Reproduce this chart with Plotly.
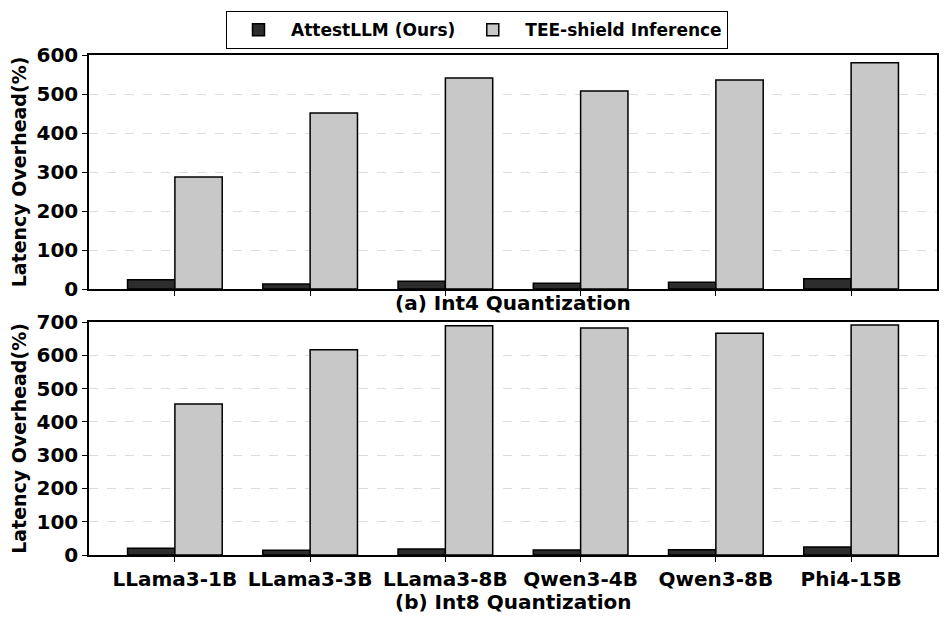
import plotly.graph_objects as go
from plotly.subplots import make_subplots

models = ["LLama3-1B", "LLama3-3B", "LLama3-8B", "Qwen3-4B", "Qwen3-8B", "Phi4-15B"]
int4_attest = [24, 13, 20, 15, 17, 26]
int4_tee = [287, 451, 541, 508, 536, 580]
int8_attest = [20, 14, 18, 15, 16, 24]
int8_tee = [454, 617, 689, 682, 666, 691]
y_ticks_top = [0, 100, 200, 300, 400, 500, 600]
y_ticks_bottom = [0, 100, 200, 300, 400, 500, 600, 700]

DARK = "#2d2d2d"
LIGHT = "#c8c8c8"
FAM = "DejaVu Sans"
OFF = 8  # page body margin
W, H = 947 - OFF, 622 - OFF


def f(size):
    return dict(family=FAM, size=size, color="black", weight="bold")


fig = make_subplots(rows=2, cols=1, vertical_spacing=0.066)

for row, (att, tee) in enumerate([(int4_attest, int4_tee), (int8_attest, int8_tee)], start=1):
    fig.add_trace(go.Bar(x=models, y=att, name="AttestLLM (Ours)",
                         marker=dict(color=DARK, line=dict(color="black", width=1.5)),
                         showlegend=(row == 1), legendgroup="a"), row=row, col=1)
    fig.add_trace(go.Bar(x=models, y=tee, name="TEE-shield Inference",
                         marker=dict(color=LIGHT, line=dict(color="black", width=1.5)),
                         showlegend=(row == 1), legendgroup="b"), row=row, col=1)

fig.update_layout(
    width=W, height=H,
    margin=dict(l=89 - OFF, r=10, t=55 - OFF, b=67, autoexpand=False),
    barmode="group", bargap=0.3, bargroupgap=0,
    plot_bgcolor="white", paper_bgcolor="white",
    font=f(20),
    legend=dict(orientation="h", xref="container", yref="container",
                x=(477 - OFF) / W, xanchor="center", y=1 - (11 - OFF) / H, yanchor="top",
                bordercolor="black", borderwidth=1.2, bgcolor="white",
                font=f(17), itemwidth=55, tracegroupgap=10),
)

fig.update_layout(
    yaxis=dict(domain=[0.532, 1.0]),
    yaxis2=dict(domain=[0.0, 0.466]),
)

common_x = dict(type="category", range=[-0.635, 5.635], showline=True, linecolor="black",
                linewidth=1.5, mirror=True, ticks="outside", ticklen=5, tickwidth=1.2,
                tickcolor="black", showgrid=False, zeroline=False, automargin=False,
                tickfont=f(20))
fig.update_xaxes(**common_x)
fig.update_xaxes(showticklabels=False, row=1, col=1)
fig.update_xaxes(showticklabels=True, row=2, col=1)

common_y = dict(showline=True, linecolor="black", linewidth=1.5, mirror=True,
                ticks="outside", ticklen=5, tickwidth=1.2, tickcolor="black",
                showgrid=True, gridcolor="#dcdcdc", griddash="dash", gridwidth=1,
                zeroline=False, tickfont=f(20), automargin=False,
                title=dict(text="Latency Overhead(%)", font=f(19), standoff=8))
fig.update_yaxes(**common_y)
fig.update_yaxes(range=[0, 600], tickvals=y_ticks_top, row=1, col=1)
fig.update_yaxes(range=[0, 700], tickvals=y_ticks_bottom, row=2, col=1)

fig.add_annotation(text="(a) Int4 Quantization", xref="paper", yref="paper",
                   x=0.5, y=0.504, yanchor="middle", showarrow=False, font=f(20))
fig.add_annotation(text="(b) Int8 Quantization", xref="paper", yref="paper",
                   x=0.5, y=-0.094, yanchor="middle", showarrow=False, font=f(20))

fig.write_html("out.html")
